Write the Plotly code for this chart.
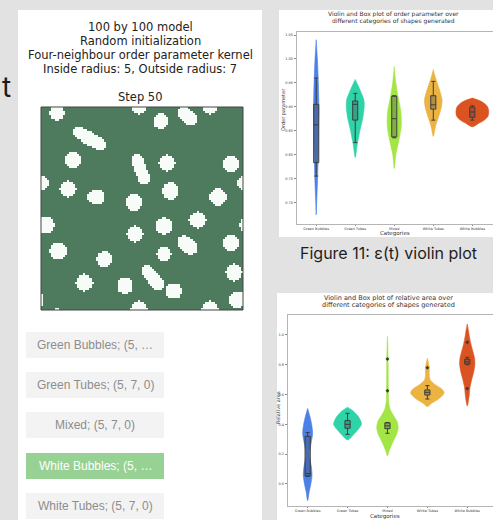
import numpy as np
import plotly.graph_objects as go

W, H = 493, 520

# ---------------- Simulation snapshot (100 x 100 grid, periodic) ----------------
GRID_N = 100
# round white domains: centre column, centre row, radius (in cells)
bubble_col = [7.5, 48.0, 58.8, 83.0, 15.5, 62.0, 93.5, 0.0, 13.0, 26.7, 45.6, 63.8,
              87.0, 2.0, 77.0, 60.5, 46.0, 8.1, 60.5, 93.4, 30.8, 21.0, 41.0, 65.4,
              95.0, 96.8]
bubble_row = [2.5, 99.0, 6.6, 99.0, 25.5, 27.0, 27.5, 37.0, 40.0, 44.0, 46.5, 41.0,
              44.0, 57.5, 55.0, 58.0, 62.0, 70.5, 72.0, 66.4, 74.6, 86.0, 87.4, 90.0,
              81.0, 94.3]
bubble_rad = [3.8, 4.0, 3.8, 4.0, 4.0, 4.0, 4.0, 3.6, 4.0, 4.0, 4.2, 4.2,
              4.2, 4.2, 4.0, 4.2, 4.0, 4.2, 3.5, 4.0, 4.0, 4.0, 4.0, 4.0,
              4.0, 4.2]
# elongated white domains: segment end points (col, row) and half thickness
tube_c0 = [18.5, 47.0, 52.2, 70.5, 70.5]
tube_r0 = [12.3, 25.4, 80.7, 2.5, 66.0]
tube_c1 = [28.3, 50.6, 57.5, 73.5, 73.5]
tube_r1 = [17.7, 35.0, 86.6, 5.5, 69.0]
tube_rad = [3.0, 3.0, 3.0, 3.3, 3.3]

# ---------------- Violin panels ----------------
categories = ["Green Bubbles", "Green Tubes", "Mixed", "White Tubes", "White Bubbles"]
cat_colors = ["#4a80e8", "#30d3a8", "#a3e544", "#ebb342", "#db5321"]

# order parameter: density outline (value, half width) per category
op_vals = [
    [0.674, 0.70, 0.75, 0.80, 0.85, 0.90, 0.95, 1.00, 1.04],
    [0.794, 0.82, 0.85, 0.875, 0.90, 0.915, 0.93, 0.945, 0.957],
    [0.771, 0.80, 0.83, 0.86, 0.89, 0.92, 0.95, 0.984],
    [0.838, 0.86, 0.88, 0.90, 0.915, 0.93, 0.95, 0.965, 0.978],
    [0.858, 0.865, 0.872, 0.88, 0.89, 0.90, 0.907, 0.913, 0.918],
]
op_half = [
    [0.0, 0.012, 0.035, 0.05, 0.06, 0.068, 0.055, 0.03, 0.0],
    [0.0, 0.05, 0.12, 0.19, 0.23, 0.22, 0.15, 0.07, 0.0],
    [0.0, 0.04, 0.12, 0.18, 0.17, 0.10, 0.04, 0.0],
    [0.0, 0.06, 0.14, 0.21, 0.225, 0.18, 0.10, 0.04, 0.0],
    [0.0, 0.16, 0.31, 0.40, 0.42, 0.39, 0.31, 0.18, 0.0],
]
op_lowfence = [0.755, 0.825, 0.835, 0.872, 0.872]
op_q1 = [0.783, 0.872, 0.837, 0.895, 0.878]
op_median = [0.862, 0.905, 0.875, 0.904, 0.889]
op_q3 = [0.905, 0.912, 0.922, 0.923, 0.899]
op_upfence = [0.960, 0.928, 0.923, 0.953, 0.902]

# relative area
ra_vals = [
    [-0.112, -0.05, 0.0, 0.06, 0.12, 0.18, 0.22, 0.28, 0.34, 0.40, 0.45, 0.507],
    [0.295, 0.31, 0.34, 0.37, 0.40, 0.43, 0.46, 0.49, 0.515],
    [0.188, 0.22, 0.26, 0.30, 0.34, 0.38, 0.42, 0.46, 0.50, 0.55, 0.62, 0.70, 0.80, 0.90, 0.99],
    [0.519, 0.54, 0.57, 0.60, 0.615, 0.64, 0.67, 0.70, 0.74, 0.78, 0.81, 0.844],
    [0.523, 0.56, 0.60, 0.65, 0.70, 0.75, 0.80, 0.84, 0.88, 0.93, 0.98, 1.03, 1.074],
]
ra_half = [
    [0.0, 0.04, 0.08, 0.11, 0.09, 0.05, 0.05, 0.09, 0.125, 0.10, 0.06, 0.0],
    [0.0, 0.08, 0.18, 0.28, 0.35, 0.32, 0.25, 0.14, 0.0],
    [0.0, 0.04, 0.10, 0.17, 0.24, 0.27, 0.24, 0.15, 0.07, 0.03, 0.025, 0.02, 0.018, 0.012, 0.0],
    [0.0, 0.10, 0.28, 0.40, 0.42, 0.35, 0.18, 0.07, 0.045, 0.05, 0.03, 0.0],
    [0.0, 0.03, 0.05, 0.07, 0.11, 0.16, 0.19, 0.185, 0.15, 0.10, 0.06, 0.03, 0.0],
]
ra_lowfence = [0.050, 0.333, 0.340, 0.570, 0.800]
ra_q1 = [0.055, 0.374, 0.371, 0.597, 0.805]
ra_median = [0.070, 0.400, 0.390, 0.615, 0.820]
ra_q3 = [0.320, 0.425, 0.410, 0.631, 0.837]
ra_upfence = [0.345, 0.474, 0.412, 0.660, 0.850]
ra_outlier_cat = [2, 2, 3, 4, 4]
ra_outlier_val = [0.839, 0.626, 0.780, 0.951, 0.640]

op_ticks = [0.70, 0.75, 0.80, 0.85, 0.90, 0.95, 1.00, 1.05]
ra_ticks = [0.0, 0.2, 0.4, 0.6, 0.8, 1.0]

buttons = ["Green Bubbles; (5, \u2026", "Green Tubes; (5, 7, 0)", "Mixed; (5, 7, 0)",
           "White Bubbles; (5, \u2026", "White Tubes; (5, 7, 0)"]
active_button = 3

OP_XR = [-0.5, 4.53]
OP_YR = [0.6554, 1.0569]
RA_XR = [-0.5, 4.645]
RA_YR = [-0.148, 1.134]


def fx(x):
    return x / W


def fy(y):
    return 1 - y / H


# build the binary lattice from the domain list (periodic distances)
cols, rows = np.meshgrid(np.arange(GRID_N), np.arange(GRID_N))


def pdist(a, b):
    d = np.abs(a - b) % GRID_N
    return np.minimum(d, GRID_N - d)


grid = np.zeros((GRID_N, GRID_N))
for c, r, rad in zip(bubble_col, bubble_row, bubble_rad):
    dc = pdist(cols, c)
    dr = pdist(rows, r)
    grid[dc ** 2 + dr ** 2 <= rad ** 2] = 1
for c0, r0, c1, r1, rad in zip(tube_c0, tube_r0, tube_c1, tube_r1, tube_rad):
    for t in np.linspace(0, 1, 25):
        c = c0 + (c1 - c0) * t
        r = r0 + (r1 - r0) * t
        dc = pdist(cols, c)
        dr = pdist(rows, r)
        grid[dc ** 2 + dr ** 2 <= rad ** 2] = 1

fig = go.Figure()

fig.add_trace(go.Heatmap(
    z=grid, colorscale=[[0, "#4e7b5d"], [1, "#f8fcf8"]], zmin=0, zmax=1,
    showscale=False, xaxis="x", yaxis="y", hoverinfo="skip"))


def add_violins(vals, halves, lo, q1, med, q3, hi, xa, ya, xa_top, ya_top):
    for i in range(len(categories)):
        v = list(vals[i])
        h = list(halves[i])
        xs = [i + w for w in h] + [i - w for w in reversed(h)]
        ys = v + list(reversed(v))
        fig.add_trace(go.Scatter(
            x=xs, y=ys, fill="toself", fillcolor=cat_colors[i], mode="lines",
            line=dict(color=cat_colors[i], width=0.6, shape="spline", smoothing=0.8),
            xaxis=xa, yaxis=ya, showlegend=False, hoverinfo="skip"))
    # box summaries sit on an overlaid axis pair so they render above the violins
    fig.add_trace(go.Box(
        x=list(range(len(categories))), q1=q1, median=med, q3=q3,
        lowerfence=lo, upperfence=hi, width=0.13, whiskerwidth=0.8,
        fillcolor="rgba(70,70,70,0.35)", line=dict(color="#3c3c3c", width=1),
        xaxis=xa_top, yaxis=ya_top, showlegend=False, boxpoints=False, hoverinfo="skip"))


add_violins(op_vals, op_half, op_lowfence, op_q1, op_median, op_q3, op_upfence,
            "x2", "y2", "x4", "y4")
add_violins(ra_vals, ra_half, ra_lowfence, ra_q1, ra_median, ra_q3, ra_upfence,
            "x3", "y3", "x5", "y5")
fig.add_trace(go.Scatter(
    x=ra_outlier_cat, y=ra_outlier_val, mode="markers",
    marker=dict(color="#3a3a3a", size=3, symbol="diamond"),
    xaxis="x5", yaxis="y5", showlegend=False, hoverinfo="skip"))

# ---------------- page panels ----------------
shapes = [
    dict(type="rect", xref="paper", yref="paper", x0=fx(18), x1=fx(262), y0=fy(520), y1=fy(10),
         fillcolor="white", line=dict(width=0), layer="below"),
    dict(type="rect", xref="paper", yref="paper", x0=fx(279), x1=fx(493), y0=fy(237), y1=fy(10),
         fillcolor="white", line=dict(width=0), layer="below"),
    dict(type="rect", xref="paper", yref="paper", x0=fx(277), x1=fx(493), y0=fy(520), y1=fy(293),
         fillcolor="white", line=dict(width=0), layer="below"),
    dict(type="rect", xref="paper", yref="paper", x0=fx(41), x1=fx(243), y0=fy(310), y1=fy(107),
         fillcolor="rgba(0,0,0,0)", line=dict(width=1, color="#444444")),
]
button_tops = [332, 372, 412, 453, 493]
annotations = []
for k, (label, top) in enumerate(zip(buttons, button_tops)):
    active = k == active_button
    shapes.append(dict(type="rect", xref="paper", yref="paper", x0=fx(26), x1=fx(164),
                       y0=fy(top + 26), y1=fy(top),
                       fillcolor="#97d194" if active else "#f3f3f3",
                       line=dict(width=0), layer="below"))
    annotations.append(dict(x=fx(95), y=fy(top + 13), xref="paper", yref="paper",
                            text=label, showarrow=False, xanchor="center", yanchor="middle",
                            font=dict(family="Liberation Sans", size=12,
                                      color="white" if active else "#8d8d8d")))

title_lines = ["100 by 100 model", "Random initialization",
               "Four-neighbour order parameter kernel", "Inside radius: 5, Outside radius: 7"]
for j, line in enumerate(title_lines):
    annotations.append(dict(x=fx(140), y=fy(26.7 + 14.2 * j), xref="paper", yref="paper",
                            text=line, showarrow=False, xanchor="center", yanchor="middle",
                            font=dict(family="DejaVu Sans", size=11.5, color="#222222")))
annotations.append(dict(x=fx(140), y=fy(97.3), xref="paper", yref="paper", text="Step 50",
                        showarrow=False, xanchor="center", yanchor="middle",
                        font=dict(family="DejaVu Sans", size=11.5, color="#222222")))
annotations.append(dict(x=fx(13), y=fy(87), xref="paper", yref="paper", text="t",
                        showarrow=False, xanchor="right", yanchor="middle",
                        font=dict(family="Inter", size=28, color="#1c1c1c")))
annotations.append(dict(x=fx(388), y=fy(253), xref="paper", yref="paper",
                        text="Figure 11: \u03b5(t) violin plot", showarrow=False,
                        xanchor="center", yanchor="middle",
                        font=dict(family="Inter", size=16, color="#1e1e1e")))

small = dict(family="DejaVu Sans", color="#333333")
for txt, yy in [("Violin and Box plot of order parameter over", 14.3),
                ("different categories of shapes generated", 21.0)]:
    annotations.append(dict(x=fx(393), y=fy(yy), xref="paper", yref="paper", text=txt,
                            showarrow=False, xanchor="center", yanchor="middle",
                            font=dict(size=6, **small)))
for txt, yy in [("Violin and Box plot of relative area over", 298.3),
                ("different categories of shapes generated", 305.0)]:
    annotations.append(dict(x=fx(388), y=fy(yy), xref="paper", yref="paper", text=txt,
                            showarrow=False, xanchor="center", yanchor="middle",
                            font=dict(size=6.5, **small)))
annotations.append(dict(x=fx(395), y=fy(234), xref="paper", yref="paper", text="Categories",
                        showarrow=False, xanchor="center", yanchor="middle",
                        font=dict(size=5.5, **small)))
annotations.append(dict(x=fx(385), y=fy(516.5), xref="paper", yref="paper", text="Categories",
                        showarrow=False, xanchor="center", yanchor="middle",
                        font=dict(size=5.5, **small)))
annotations.append(dict(x=fx(283), y=fy(110), xref="paper", yref="paper", text="Order parameter",
                        showarrow=False, textangle=-90, xanchor="center", yanchor="middle",
                        font=dict(size=5, **small)))
annotations.append(dict(x=fx(278), y=fy(408), xref="paper", yref="paper", text="Relative area",
                        showarrow=False, textangle=-90, xanchor="center", yanchor="middle",
                        font=dict(size=5, **small)))


def cat_axis(domain, rng, tlen):
    return dict(domain=domain, range=rng, tickvals=list(range(len(categories))),
                ticktext=categories, tickfont=dict(size=3.5, family="DejaVu Sans", color="#444"),
                showline=True, mirror=True, linecolor="#b5b5b5", linewidth=1,
                ticks="outside", ticklen=tlen, tickcolor="#888", showgrid=False, zeroline=False,
                fixedrange=True)


def val_axis(domain, rng, ticks, fmt):
    return dict(domain=domain, range=rng, tickvals=ticks, ticktext=[fmt.format(t) for t in ticks],
                tickfont=dict(size=3.5, family="DejaVu Sans", color="#444"),
                showline=True, mirror=True, linecolor="#b5b5b5", linewidth=1,
                ticks="outside", ticklen=2, tickcolor="#888", showgrid=False, zeroline=False,
                fixedrange=True)


def overlay(base, rng, anchor):
    return dict(overlaying=base, anchor=anchor, range=rng, visible=False, fixedrange=True,
                showgrid=False, zeroline=False)


fig.update_layout(
    width=W, height=H, autosize=False,
    margin=dict(l=0, r=0, t=0, b=0, pad=0),
    paper_bgcolor="#e2e2e2", plot_bgcolor="white",
    showlegend=False,
    xaxis=dict(domain=[fx(41), fx(243)], range=[-0.5, 99.5], visible=False, fixedrange=True),
    yaxis=dict(domain=[fy(310), fy(107)], range=[99.5, -0.5], visible=False, fixedrange=True),
    xaxis2=dict(anchor="y2", **cat_axis([fx(296.7), 1.0], OP_XR, 1.5)),
    yaxis2=dict(anchor="x2", **val_axis([fy(223.7), fy(31.7)], OP_YR, op_ticks, "{:.2f}")),
    xaxis3=dict(anchor="y3", **cat_axis([fx(287.7), 1.0], RA_XR, 1)),
    yaxis3=dict(anchor="x3", **val_axis([fy(506), fy(315)], RA_YR, ra_ticks, "{:.1f}")),
    xaxis4=overlay("x2", OP_XR, "y4"),
    yaxis4=overlay("y2", OP_YR, "x4"),
    xaxis5=overlay("x3", RA_XR, "y5"),
    yaxis5=overlay("y3", RA_YR, "x5"),
    shapes=shapes, annotations=annotations,
)

fig.write_html("out.html")
